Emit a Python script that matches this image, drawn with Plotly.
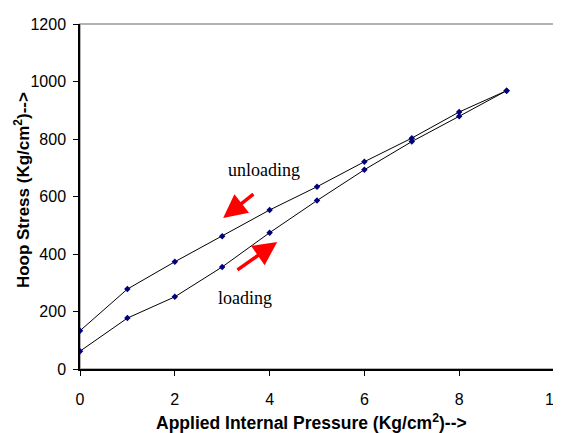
import plotly.graph_objects as go

pressure = [0, 1, 2, 3, 4, 5, 6, 7, 8, 9]
loading = [62, 177, 251, 355, 474, 586, 693, 791, 879, 968]
unloading = [133, 278, 373, 462, 553, 634, 721, 803, 894, 968]
x_ticks = [0, 2, 4, 6, 8, 10]
y_ticks = [0, 200, 400, 600, 800, 1000, 1200]

fig = go.Figure()
for name, vals in [("loading", loading), ("unloading", unloading)]:
    fig.add_trace(go.Scatter(
        x=pressure, y=vals, mode="lines+markers", name=name,
        line=dict(color="black", width=1),
        marker=dict(symbol="diamond", size=5, color="#000080"),
        showlegend=False,
    ))

serif = "Liberation Serif, Times New Roman, serif"
sans = "Liberation Sans, Arial, sans-serif"

fig.add_annotation(x=3.88, y=693, text="unloading", showarrow=False,
                   font=dict(family=serif, size=18, color="black"))
fig.add_annotation(x=3.48, y=248, text="loading", showarrow=False,
                   font=dict(family=serif, size=18, color="black"))
fig.add_annotation(x=3.02, y=525, ax=3.69, ay=612, xref="x", yref="y",
                   axref="x", ayref="y", text="", showarrow=True,
                   arrowhead=2, arrowsize=1.35, arrowwidth=3.5, arrowcolor="red")
fig.add_annotation(x=4.16, y=442, ax=3.29, ay=341, xref="x", yref="y",
                   axref="x", ayref="y", text="", showarrow=True,
                   arrowhead=2, arrowsize=1.35, arrowwidth=3.5, arrowcolor="red")

# axis titles
fig.add_annotation(xref="paper", yref="paper", x=0.489, y=-0.154,
                   xanchor="center", yanchor="middle",
                   text="<b>Applied Internal Pressure (Kg/cm<sup>2</sup>)--></b>",
                   showarrow=False, font=dict(family=sans, size=17.5, color="black"))
fig.add_annotation(xref="paper", yref="paper", x=-0.122, y=0.519, textangle=-90,
                   xanchor="center", yanchor="middle",
                   text="<b>Hoop Stress (Kg/cm<sup>2</sup>)--></b>",
                   showarrow=False, font=dict(family=sans, size=17, color="black"))

fig.add_shape(type="rect", xref="paper", yref="paper", x0=0, y0=0, x1=1, y1=1,
              line=dict(color="#999999", width=1.5), layer="below")

# page body adds an 8px offset; size the figure so the plot area lands where the reference has it
fig.update_layout(
    width=553, height=425,
    margin=dict(l=72, r=7, t=16, b=64, autoexpand=False),
    plot_bgcolor="white", paper_bgcolor="white",
    font=dict(family=sans, size=16, color="black"),
)
fig.update_xaxes(range=[0, 10], tickvals=x_ticks, showgrid=False, automargin=False,
                 zeroline=False, showline=True, linecolor="black", linewidth=1.5,
                 ticks="outside", ticklen=5, tickcolor="black",
                 ticklabeloverflow="allow", ticklabelstandoff=10)
fig.update_yaxes(range=[0, 1200], tickvals=y_ticks, showgrid=False, automargin=False,
                 zeroline=False, showline=True, linecolor="black", linewidth=1.5,
                 ticks="outside", ticklen=5, tickcolor="black", ticklabelstandoff=4)

fig.write_html("out.html")
